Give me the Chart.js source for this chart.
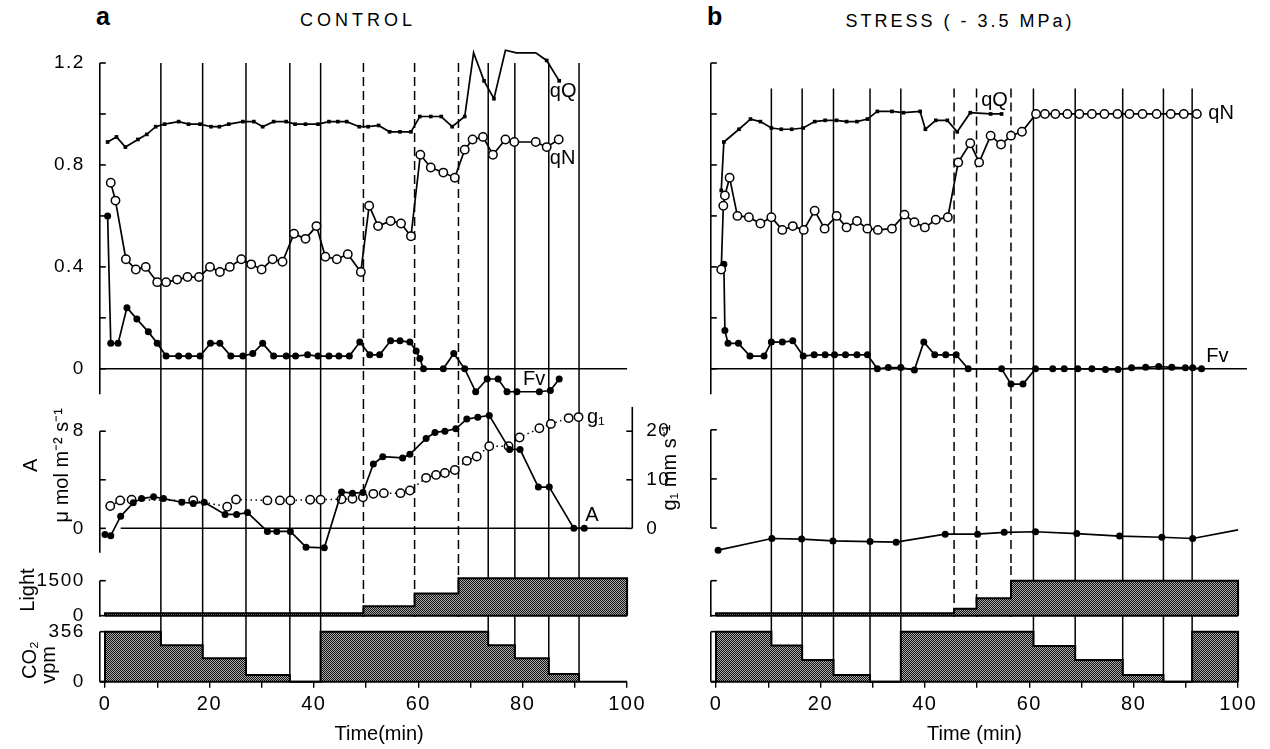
<!DOCTYPE html>
<html>
<head>
<meta charset="utf-8">
<title>Fluorescence quenching and gas exchange</title>
<script src="https://cdn.jsdelivr.net/npm/chart.js@4.4.1/dist/chart.umd.min.js"></script>
<style>
  html, body { margin: 0; padding: 0; background: #fff; }
  body { position: relative; width: 1270px; height: 749px; overflow: hidden;
         font-family: "Liberation Sans", Arial, Helvetica, sans-serif; color: #000; }
  canvas { position: absolute; }
  .head { position: absolute; white-space: nowrap; }
  .tag { font-weight: bold; font-size: 25px; line-height: 26px; }
  .cap { font-size: 18px; line-height: 20px; letter-spacing: 4px; text-align: center; }
</style>
</head>
<body>
<div class="head tag" style="left:96px;top:3px">a</div>
<div class="head cap" style="left:0;width:716px;top:10px">CONTROL</div>
<div class="head tag" style="left:707px;top:3px">b</div>
<div class="head cap" style="left:800px;width:320px;top:11px;letter-spacing:3px">STRESS ( - 3.5 MPa)</div>
<script>
// time axis (min)
const timeTicks = [0, 10, 20, 30, 40, 50, 60, 70, 80, 90, 100];

// ---- a: control leaf ----
const ctlSolid = [10.7, 18.7, 27, 35.4, 41.3, 73.4, 78.5, 85, 90.8];
const ctlDashed = [49.5, 59.3, 67.7];

const ctlQqT = [0.5, 2.2, 3.9, 6.3, 8.0, 9.7, 11.4, 14.1, 16.0, 18.2, 20.3, 21.9, 23.7, 26.4, 28.5, 30.2, 32.3, 34.7, 36.4, 38.4, 40.8, 42.9, 44.6, 46.3, 48.7, 50.4, 52.4, 54.5, 56.5, 58.6, 60.3, 62.4, 64.4, 66.5, 68.9, 70.6, 72.6, 74.5, 76.7, 78.8, 82.5, 84.6, 87.0];
const ctlQq = [0.89, 0.91, 0.87, 0.90, 0.92, 0.95, 0.96, 0.97, 0.96, 0.96, 0.95, 0.95, 0.96, 0.97, 0.97, 0.95, 0.97, 0.97, 0.96, 0.96, 0.96, 0.97, 0.97, 0.97, 0.95, 0.95, 0.955, 0.93, 0.93, 0.93, 0.99, 0.99, 0.99, 0.95, 0.99, 1.24, 1.13, 1.06, 1.25, 1.24, 1.24, 1.21, 1.13];

const ctlQnT = [1.1, 2.0, 4.0, 5.9, 7.8, 10.0, 11.7, 13.8, 15.8, 18.0, 20.1, 22.0, 23.9, 26.1, 28.0, 30.0, 32.1, 34.0, 36.2, 38.4, 40.5, 42.2, 44.4, 46.5, 49.0, 50.6, 52.3, 54.7, 56.7, 58.6, 60.4, 62.4, 64.8, 67.0, 68.9, 70.4, 72.4, 74.3, 76.7, 78.4, 82.5, 84.6, 86.9];
const ctlQn = [0.73, 0.66, 0.43, 0.39, 0.40, 0.34, 0.34, 0.35, 0.36, 0.36, 0.40, 0.38, 0.40, 0.43, 0.41, 0.39, 0.43, 0.42, 0.53, 0.51, 0.56, 0.44, 0.43, 0.45, 0.38, 0.64, 0.56, 0.58, 0.57, 0.52, 0.84, 0.79, 0.77, 0.75, 0.86, 0.90, 0.91, 0.84, 0.90, 0.89, 0.89, 0.87, 0.90];

const ctlFvT = [0.5, 1.1, 2.5, 4.2, 6.1, 8.3, 10.0, 11.7, 14.1, 16.0, 18.2, 20.2, 22.0, 24.1, 26.4, 28.3, 30.2, 32.3, 34.7, 36.5, 38.8, 40.8, 42.9, 44.8, 46.8, 48.8, 50.7, 52.6, 54.7, 56.5, 58.4, 59.6, 60.3, 61.0, 64.8, 66.8, 68.9, 71.0, 73.2, 75.3, 77.0, 78.9, 83.2, 85.3, 87.0];
const ctlFv = [0.60, 0.10, 0.10, 0.24, 0.195, 0.145, 0.10, 0.05, 0.05, 0.05, 0.05, 0.10, 0.10, 0.05, 0.05, 0.06, 0.10, 0.05, 0.05, 0.05, 0.055, 0.05, 0.05, 0.05, 0.05, 0.105, 0.055, 0.055, 0.11, 0.11, 0.105, 0.07, 0.04, 0.0, 0.0, 0.06, 0.0, -0.09, -0.04, -0.04, -0.09, -0.09, -0.09, -0.085, -0.04];

const ctlAT = [0, 1.1, 3.0, 5.4, 7.0, 9.3, 11.2, 14.7, 16.9, 19.0, 23.0, 25.2, 27.3, 31.1, 32.9, 35.5, 38.5, 42.0, 45.3, 47.4, 49.4, 51.4, 53.2, 57.0, 58.4, 61.5, 63.2, 65.1, 67.2, 69.3, 71.4, 73.6, 77.5, 79.5, 83.0, 85.1, 89.8, 91.8];
const ctlA = [-0.5, -0.6, 1.0, 2.1, 2.45, 2.6, 2.45, 2.15, 2.05, 2.15, 1.15, 1.15, 1.3, -0.25, -0.25, -0.25, -1.55, -1.6, 3.0, 2.9, 2.95, 5.3, 5.9, 5.8, 6.1, 7.4, 7.9, 8.0, 8.2, 9.0, 9.15, 9.3, 6.5, 6.5, 3.4, 3.4, 0.0, 0.0];

const ctlGT = [1.0, 2.9, 5.1, 16.9, 23.4, 25.1, 31.1, 33.5, 35.5, 39.3, 41.3, 45.3, 47.4, 49.4, 51.4, 53.4, 56.6, 58.4, 61.5, 63.4, 65.1, 67.0, 69.3, 71.2, 73.6, 77.3, 79.4, 83.2, 85.4, 88.8, 90.7];
const ctlG = [4.6, 5.75, 5.9, 5.75, 4.45, 5.95, 5.75, 5.75, 5.75, 5.9, 5.9, 6.0, 6.1, 6.4, 7.1, 7.25, 7.25, 7.8, 10.4, 11.0, 11.4, 12.0, 13.9, 14.8, 16.9, 16.9, 18.7, 20.6, 21.5, 22.7, 22.9];

const ctlLightT = [0, 0, 49.5, 59.3, 67.7, 100, 100];
const ctlLight = [0, 100, 400, 950, 1600, 1600, 0];
const ctlCo2T = [0, 0, 10.7, 18.7, 27, 35.4, 41.3, 73.4, 78.5, 85, 90.8];
const ctlCo2 = [0, 356, 259, 167, 48, 0, 356, 259, 167, 55, 0];

// ---- b: stressed leaf (-3.5 MPa) ----
const strSolid = [10.6, 16.5, 22.5, 29.5, 35.4, 60.8, 68.8, 77.9, 85.7, 91.2];
const strDashed = [45.6, 49.9, 56.5];

const strQqT = [1.0, 1.5, 4.4, 6.6, 8.5, 10.6, 12.5, 14.5, 16.7, 18.9, 20.9, 23.1, 25.0, 27.0, 29.0, 30.9, 33.7, 35.9, 39.1, 40.1, 42.1, 44.3, 46.2, 48.7, 52.6, 54.7];
const strQq = [0.70, 0.89, 0.94, 0.98, 0.97, 0.945, 0.94, 0.94, 0.945, 0.97, 0.975, 0.975, 0.97, 0.97, 0.98, 1.01, 1.01, 1.005, 1.01, 0.94, 0.975, 0.975, 0.93, 1.005, 1.0, 1.0];

const strQnT = [1.0, 1.4, 1.7, 2.6, 4.1, 6.3, 8.5, 10.6, 12.7, 14.7, 16.8, 18.9, 20.8, 23.1, 25.0, 27.0, 29.0, 31.0, 33.7, 36.1, 38.0, 40.0, 42.1, 44.4, 46.4, 48.7, 50.4, 52.6, 54.6, 56.5, 58.6, 61.3, 63.0, 65.0, 67.3, 69.6, 72.0, 74.4, 76.9, 79.2, 81.7, 84.4, 87.1, 89.6, 92.1];
const strQn = [0.39, 0.64, 0.68, 0.75, 0.60, 0.595, 0.57, 0.595, 0.545, 0.56, 0.545, 0.62, 0.55, 0.60, 0.555, 0.58, 0.55, 0.545, 0.55, 0.605, 0.575, 0.555, 0.585, 0.595, 0.81, 0.885, 0.81, 0.915, 0.88, 0.915, 0.93, 1.0, 1.0, 1.0, 1.0, 1.0, 1.0, 1.0, 1.0, 1.0, 1.0, 1.0, 1.0, 1.0, 1.0];

const strFvT = [1.5, 1.7, 2.3, 4.3, 6.5, 9.2, 10.6, 12.7, 14.7, 16.7, 18.8, 20.9, 22.7, 24.8, 27.0, 29.0, 30.9, 33.0, 35.4, 38.0, 39.8, 41.9, 44.0, 46.0, 48.3, 54.7, 56.5, 58.8, 61.2, 64.5, 66.7, 69.3, 72.0, 74.6, 77.0, 79.6, 82.3, 84.8, 87.3, 89.9, 91.3, 93.0];
const strFv = [0.41, 0.15, 0.10, 0.10, 0.05, 0.05, 0.105, 0.105, 0.11, 0.05, 0.055, 0.055, 0.055, 0.055, 0.055, 0.055, 0.0, 0.005, 0.005, -0.005, 0.105, 0.055, 0.055, 0.055, 0.0, 0.0, -0.06, -0.06, 0.0, 0.0, 0.0, 0.0, 0.0, -0.003, -0.003, 0.004, 0.006, 0.009, 0.006, 0.004, 0.004, 0.0];

const strAT = [0.4, 10.7, 16.4, 22.4, 29.5, 34.5, 43.9, 50.1, 55.2, 61.2, 69.1, 77.3, 85.4, 91.3, 100];
const strA = [-1.8, -0.85, -0.9, -1.05, -1.1, -1.15, -0.5, -0.5, -0.35, -0.3, -0.45, -0.65, -0.75, -0.85, -0.15];

const strLightT = [0, 0, 45.6, 49.9, 56.5, 100, 100];
const strLight = [0, 100, 300, 750, 1500, 1500, 0];
const strCo2T = [0, 0, 10.6, 16.5, 22.5, 29.5, 35.4, 60.8, 68.8, 77.9, 85.7, 91.2, 100, 100];
const strCo2 = [0, 356, 257, 155, 48, 0, 356, 254, 155, 48, 0, 356, 356, 0];

// ---- layout of the stacked strips ----
const FONT = '"Liberation Sans", Arial, Helvetica, sans-serif';
const LEFT_W = 99.8;      // room for the left axis labels
const PLOT_RIGHT = 632.3; // right edge of the plotting area inside each canvas
const X_H = 67.3;         // height of the time axis block
const STRIPS = {
  top:   { top: 40,  h: 360, pad: [23, 2.25] },
  gas:   { top: 400, h: 166, pad: [0.95, 10.93] },
  light: { top: 566, h: 56,  pad: [11.2, 4.2] },
  co2:   { top: 622, h: 127, pad: [6.3, 0] }
};

Chart.defaults.font.family = FONT;
Chart.defaults.color = '#000';

const pts = (ts, vs) => ts.map((t, i) => ({ x: t, y: vs[i] }));

function stipple() {
  const c = document.createElement('canvas');
  c.width = 4; c.height = 4;
  const g = c.getContext('2d');
  g.fillStyle = '#ababab';
  g.fillRect(0, 0, 4, 4);
  g.fillStyle = '#111';
  for (let y = 0; y < 4; y++)
    for (let x = 0; x < 4; x++)
      if ((x + y) % 2 === 0) g.fillRect(x, y, 1, 1);
  return g.createPattern(c, 'repeat');
}
const HATCH = stipple();

function trace(ts, vs, kind, axis) {
  const ds = {
    type: 'line', data: pts(ts, vs), yAxisID: axis || 'y',
    borderColor: '#000', borderWidth: 1.7, tension: 0, clip: false,
    pointBorderColor: '#000', fill: false
  };
  if (kind === 'open') Object.assign(ds, { pointRadius: 4.2, pointBackgroundColor: '#fff', pointBorderWidth: 1.5 });
  if (kind === 'dot') Object.assign(ds, { pointRadius: 3.5, pointBackgroundColor: '#000', pointBorderWidth: 0 });
  if (kind === 'square') Object.assign(ds, { pointStyle: 'rect', pointRadius: 2.6, pointBackgroundColor: '#000', pointBorderWidth: 0 });
  return ds;
}

function block(ts, vs) {
  return {
    type: 'line', data: pts(ts, vs), stepped: true, fill: 'origin',
    backgroundColor: HATCH, borderColor: '#000', borderWidth: 2,
    pointRadius: 0, tension: 0, clip: false
  };
}

function seg(ctx, x1, y1, x2, y2) {
  ctx.beginPath();
  ctx.moveTo(x1, y1);
  ctx.lineTo(x2, y2);
  ctx.stroke();
}

// event lines, zero lines, axis lines with inward ticks, and in-plot labels
function frame(o) {
  return {
    id: 'frame',
    beforeDraw(chart) {
      // the printed tick numerals are set a little wider
      chart.ctx.letterSpacing = '1.5px';
    },
    beforeDatasetsDraw(chart) {
      const { ctx, chartArea: ca, scales } = chart;
      const x = scales.x;
      const top = o.from == null ? 0 : scales.y.getPixelForValue(o.from);
      const bottom = o.toAxis ? ca.bottom : chart.height;
      ctx.save();
      ctx.strokeStyle = '#000';
      ctx.lineWidth = 1.5;
      (o.solid || []).forEach(t => { const xx = x.getPixelForValue(t); seg(ctx, xx, top, xx, bottom); });
      ctx.setLineDash([9, 5]);
      (o.dashed || []).forEach(t => { const xx = x.getPixelForValue(t); seg(ctx, xx, top, xx, bottom); });
      ctx.setLineDash([]);
      ctx.lineWidth = 1.5;
      (o.zero || []).forEach(z => {
        const yy = scales[z.axis || 'y'].getPixelForValue(0);
        seg(ctx, x.getPixelForValue(z.from), yy, x.getPixelForValue(z.to), yy);
      });
      ctx.restore();
    },
    afterDatasetsDraw(chart) {
      const { ctx, chartArea: ca, scales } = chart;
      const x = scales.x;
      ctx.save();
      ctx.letterSpacing = '0px';
      ctx.strokeStyle = '#000';
      ctx.fillStyle = '#000';
      ctx.lineWidth = 1.6;
      (o.axes || []).forEach(a => {
        const sc = scales[a.id];
        const right = sc.position === 'right';
        const xx = right ? ca.right : ca.left;
        seg(ctx, xx, sc.getPixelForValue(a.span[0]), xx, sc.getPixelForValue(a.span[1]));
        sc.ticks.forEach(tk => {
          const yy = sc.getPixelForValue(tk.value);
          seg(ctx, xx, yy, xx + (right ? -6 : 6), yy);
        });
      });
      if (o.base) {
        ctx.lineWidth = 2;
        const yy = scales.y.getPixelForValue(0);
        seg(ctx, x.getPixelForValue(o.base[0]), yy, x.getPixelForValue(o.base[1]), yy);
      }
      ctx.font = '20px ' + FONT;
      ctx.textBaseline = 'middle';
      (o.notes || []).forEach(n => {
        ctx.textAlign = n.align || 'left';
        ctx.fillText(n.text, x.getPixelForValue(n.t), scales[n.axis || 'y'].getPixelForValue(n.v));
      });
      if (o.xTitle) {
        ctx.textAlign = 'center';
        ctx.fillText(o.xTitle.text, x.getPixelForValue(o.xTitle.t), ca.bottom + o.xTitle.dy);
      }
      ctx.textAlign = 'center';
      (o.titles || []).forEach(n => {
        const xx = (n.side === 'right' ? ca.right : ca.left) + n.dx;
        const yy = scales[n.axis || 'y'].getPixelForValue(n.v);
        ctx.save();
        ctx.translate(xx, yy);
        ctx.rotate(-Math.PI / 2);
        ctx.fillText(n.text, 0, 0);
        ctx.restore();
      });
      ctx.restore();
    }
  };
}

function xScale(shown) {
  const sc = { type: 'linear', min: -1, max: 101, bounds: 'data', display: !!shown };
  if (!shown) return sc;
  return Object.assign(sc, {
    position: 'bottom',
    grid: { display: true, drawOnChartArea: false, drawTicks: true, tickLength: 6, color: '#000', lineWidth: 1.4 },
    border: { display: false },
    afterBuildTicks: s => { s.ticks = timeTicks.map(v => ({ value: v })); },
    afterFit: s => { s.height = X_H; s.paddingLeft = 0; s.paddingRight = 0; },
    ticks: {
      padding: 5, color: '#000', maxRotation: 0, autoSkip: false,
      font: { family: FONT, size: 20 },
      callback: v => (v % 20 === 0 ? String(v) : '')
    }
  });
}

function yScale(c, side, width) {
  return {
    type: 'linear', position: side, min: c.min, max: c.max, bounds: 'data',
    grid: { display: false }, border: { display: false },
    afterBuildTicks: s => { s.ticks = c.ticks.map(k => ({ value: k[0] })); },
    afterFit: s => { s.width = width; s.paddingTop = 0; s.paddingBottom = 0; },
    ticks: {
      padding: side === 'left' ? 7 : 6, color: '#000', autoSkip: false,
      font: { family: FONT, size: 19 },
      callback: (v, i) => c.ticks[i][1]
    }
  };
}

function strip(left, width, key, cfg) {
  const s = STRIPS[key];
  const cv = document.createElement('canvas');
  cv.width = width;
  cv.height = s.h;
  cv.style.left = left + 'px';
  cv.style.top = s.top + 'px';
  document.body.appendChild(cv);
  const scales = { x: xScale(cfg.timeAxis), y: yScale(cfg.y, 'left', LEFT_W) };
  if (cfg.y2) scales.y2 = yScale(cfg.y2, 'right', width - PLOT_RIGHT);
  return new Chart(cv, {
    type: 'line',
    data: { datasets: cfg.datasets },
    options: {
      responsive: false, animation: false, devicePixelRatio: 1, events: [],
      layout: { padding: { top: s.pad[0], bottom: s.pad[1], left: 0, right: cfg.y2 ? 0 : width - PLOT_RIGHT } },
      plugins: { legend: { display: false }, tooltip: { enabled: false } },
      scales
    },
    plugins: [frame(cfg.frame)]
  });
}

const fluorTicks = lab => [[0, lab ? '0' : ''], [0.2, ''], [0.4, lab ? '0.4' : ''], [0.6, ''],
                           [0.8, lab ? '0.8' : ''], [1.0, ''], [1.2, lab ? '1.2' : '']];

// ---------- panel a ----------
strip(0, 700, 'top', {
  y: { min: -0.1, max: 1.2, ticks: fluorTicks(true) },
  datasets: [trace(ctlQqT, ctlQq, 'square'), trace(ctlQnT, ctlQn, 'open'), trace(ctlFvT, ctlFv, 'dot')],
  frame: {
    from: 1.2, solid: ctlSolid, dashed: ctlDashed,
    zero: [{ from: -1, to: 100 }],
    axes: [{ id: 'y', span: [1.2, -0.1] }],
    notes: [
      { text: 'qQ', t: 85.2, v: 1.087 },
      { text: 'qN', t: 85.2, v: 0.827 },
      { text: 'Fv', t: 82.2, v: -0.043, align: 'center' }
    ]
  }
});

strip(0, 700, 'gas', {
  y: { min: -2.2, max: 10.1, ticks: [[0, '0'], [4, ''], [8, '8']] },
  y2: { min: -5.5, max: 25.25, ticks: [[0, '0'], [10, '10'], [20, '20']] },
  datasets: [trace(ctlAT, ctlA, 'dot'),
             Object.assign(trace(ctlGT, ctlG, 'open', 'y2'), { borderDash: [1.5, 3.5], borderWidth: 1.5 })],
  frame: {
    solid: ctlSolid, dashed: ctlDashed,
    zero: [{ from: 3, to: 100 }],
    axes: [{ id: 'y', span: [8, -2] }, { id: 'y2', span: [0, 25] }],
    notes: [
      { text: 'g\u2081', t: 92.3, v: 9.14 },
      { text: 'A', t: 92.0, v: 1.08 }
    ],
    titles: [
      { text: 'A', dx: -68, v: 5.2 },
      { text: '\u03bc mol m\u207b\u00b2 s\u207b\u00b9', dx: -37, v: 5.2 },
      { text: 'g\u2081 mm s\u207b\u00b9', dx: 38, v: 5.0, side: 'right' }
    ]
  }
});

strip(0, 700, 'light', {
  y: { min: -90, max: 1650, ticks: [[0, '0'], [1500, '1500']] },
  datasets: [block(ctlLightT, ctlLight)],
  frame: {
    solid: ctlSolid, dashed: ctlDashed, base: [0, 100],
    axes: [{ id: 'y', span: [1500, -45] }],
    titles: [{ text: 'Light', dx: -71, v: 1100 }]
  }
});

strip(0, 700, 'co2', {
  timeAxis: true,
  y: { min: 0, max: 380, ticks: [[0, '0'], [356, '356']] },
  datasets: [block(ctlCo2T, ctlCo2)],
  frame: {
    solid: ctlSolid, toAxis: true, base: [-1, 100],
    axes: [{ id: 'y', span: [356, 0] }],
    xTitle: { text: 'Time(min)', t: 52.5, dy: 53 },
    titles: [
      { text: 'CO\u2082', dx: -69, v: 154 },
      { text: 'vpm', dx: -50, v: 119 }
    ]
  }
});

// ---------- panel b ----------
strip(611, 659, 'top', {
  y: { min: -0.1, max: 1.2, ticks: fluorTicks(false) },
  datasets: [trace(strQqT, strQq, 'square'), trace(strQnT, strQn, 'open'), trace(strFvT, strFv, 'dot')],
  frame: {
    from: 1.1, solid: strSolid, dashed: strDashed,
    zero: [{ from: -1, to: 101.7 }],
    axes: [{ id: 'y', span: [1.2, -0.1] }],
    notes: [
      { text: 'qQ', t: 50.8, v: 1.052 },
      { text: 'qN', t: 94.3, v: 1.0 },
      { text: 'Fv', t: 93.9, v: 0.047 }
    ]
  }
});

strip(611, 659, 'gas', {
  y: { min: -2.2, max: 10.1, ticks: [[0, ''], [4, ''], [8, '']] },
  datasets: [Object.assign(trace(strAT, strA, 'dot'), {
    pointRadius: ctx => (ctx.dataIndex === strAT.length - 1 ? 0 : 3.5)
  })],
  frame: {
    solid: strSolid, dashed: strDashed,
    axes: [{ id: 'y', span: [8, 0] }]
  }
});

strip(611, 659, 'light', {
  y: { min: -90, max: 1650, ticks: [[0, ''], [1500, '']] },
  datasets: [block(strLightT, strLight)],
  frame: {
    solid: strSolid, dashed: strDashed, base: [0, 100],
    axes: [{ id: 'y', span: [1500, -45] }]
  }
});

strip(611, 659, 'co2', {
  timeAxis: true,
  y: { min: 0, max: 380, ticks: [[0, ''], [356, '']] },
  datasets: [block(strCo2T, strCo2)],
  frame: {
    solid: strSolid, toAxis: true, base: [-1, 100],
    axes: [{ id: 'y', span: [356, 0] }],
    xTitle: { text: 'Time (min)', t: 49.5, dy: 53 }
  }
});
</script>
</body>
</html>
